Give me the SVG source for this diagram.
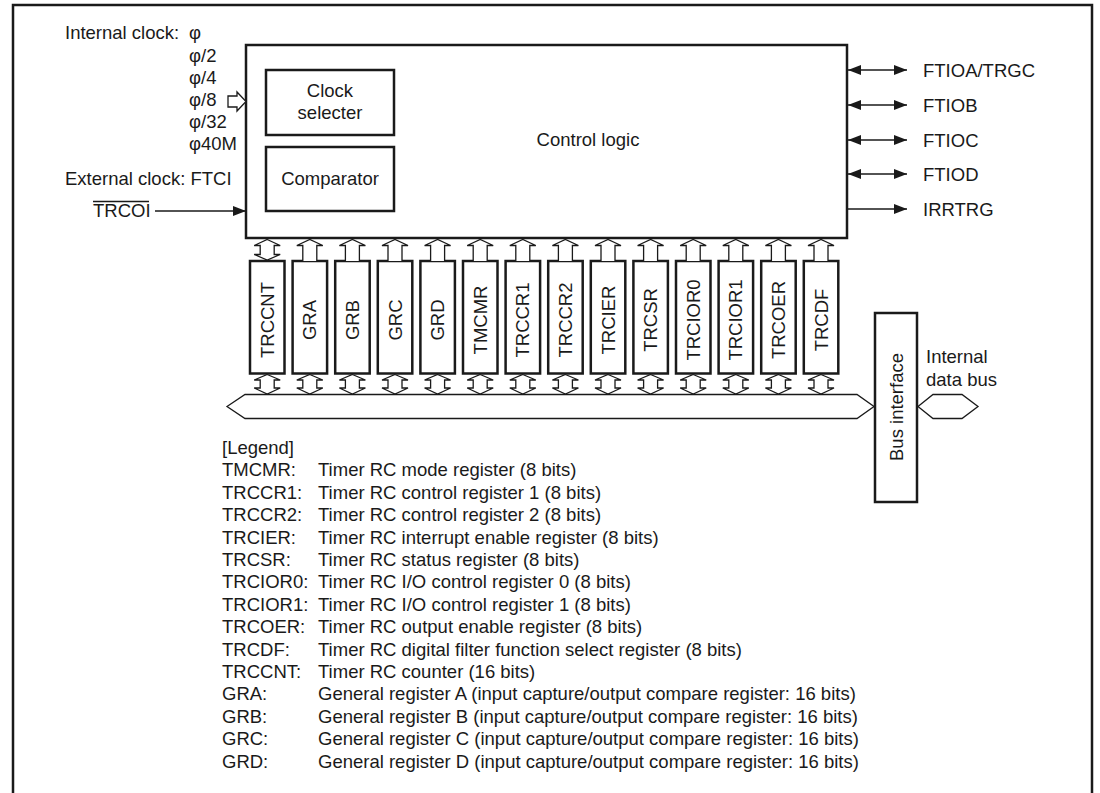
<svg xmlns="http://www.w3.org/2000/svg" width="1100" height="793" viewBox="0 0 1100 793">
<defs>
<style>
text{font-family:"Liberation Sans",Arial,Helvetica,sans-serif;font-size:18.5px;fill:#1a1a1a}
.box{fill:#fff;stroke:#1a1a1a;stroke-width:2.5}
.thin{fill:none;stroke:#1a1a1a;stroke-width:1.3}
.hol{fill:#fff;stroke:#1a1a1a;stroke-width:1.3;stroke-linejoin:miter}
.mid{text-anchor:middle}
</style>
<marker id="ah" viewBox="0 0 13 10" refX="13" refY="5" markerWidth="13" markerHeight="10" markerUnits="userSpaceOnUse" orient="auto-start-reverse">
<path d="M0,0 L13,5 L0,10 z" fill="#1a1a1a"/>
</marker>
</defs>
<rect width="1100" height="793" fill="#fff"/>
<path d="M13,800 V5 H1092 V800" fill="none" stroke="#1a1a1a" stroke-width="2.5"/>

<g id="control-logic">
<rect class="box" x="246" y="45" width="601" height="193"/>
<text class="mid" x="588" y="146">Control logic</text>
</g>
<g id="clock-selecter">
<rect class="box" x="266" y="70" width="128" height="65"/>
<text class="mid" x="330" y="97">Clock</text>
<text class="mid" x="330" y="119">selecter</text>
</g>
<g id="comparator">
<rect class="box" x="266" y="147" width="128" height="64"/>
<text class="mid" x="330" y="185">Comparator</text>
</g>

<g id="inputs">
<text x="65" y="39">Internal clock:</text>
<text x="189" y="39">φ</text>
<text x="189" y="61.5">φ/2</text>
<text x="189" y="83.5">φ/4</text>
<text x="189" y="105.5">φ/8</text>
<text x="189" y="128">φ/32</text>
<text x="189" y="150">φ40M</text>
<text x="65" y="185">External clock: FTCI</text>
<text x="93" y="217">TRCOI</text>
<line class="thin" x1="93" y1="201.5" x2="149" y2="201.5"/>
</g>

<g id="registers">
<g id="reg-TRCCNT"><rect class="box" x="250" y="261" width="34.5" height="112.5"/><text class="mid" transform="translate(267.2,320) rotate(-90)" y="6.5">TRCCNT</text></g>
<g id="reg-GRA"><rect class="box" x="292.6" y="261" width="34.5" height="112.5"/><text class="mid" transform="translate(309.8,320) rotate(-90)" y="6.5">GRA</text></g>
<g id="reg-GRB"><rect class="box" x="335.2" y="261" width="34.5" height="112.5"/><text class="mid" transform="translate(352.4,320) rotate(-90)" y="6.5">GRB</text></g>
<g id="reg-GRC"><rect class="box" x="377.8" y="261" width="34.5" height="112.5"/><text class="mid" transform="translate(395,320) rotate(-90)" y="6.5">GRC</text></g>
<g id="reg-GRD"><rect class="box" x="420.4" y="261" width="34.5" height="112.5"/><text class="mid" transform="translate(437.6,320) rotate(-90)" y="6.5">GRD</text></g>
<g id="reg-TMCMR"><rect class="box" x="463" y="261" width="34.5" height="112.5"/><text class="mid" transform="translate(480.2,320) rotate(-90)" y="6.5">TMCMR</text></g>
<g id="reg-TRCCR1"><rect class="box" x="505.6" y="261" width="34.5" height="112.5"/><text class="mid" transform="translate(522.8,320) rotate(-90)" y="6.5">TRCCR1</text></g>
<g id="reg-TRCCR2"><rect class="box" x="548.2" y="261" width="34.5" height="112.5"/><text class="mid" transform="translate(565.4,320) rotate(-90)" y="6.5">TRCCR2</text></g>
<g id="reg-TRCIER"><rect class="box" x="590.8" y="261" width="34.5" height="112.5"/><text class="mid" transform="translate(608,320) rotate(-90)" y="6.5">TRCIER</text></g>
<g id="reg-TRCSR"><rect class="box" x="633.4" y="261" width="34.5" height="112.5"/><text class="mid" transform="translate(650.6,320) rotate(-90)" y="6.5">TRCSR</text></g>
<g id="reg-TRCIOR0"><rect class="box" x="676" y="261" width="34.5" height="112.5"/><text class="mid" transform="translate(693.2,320) rotate(-90)" y="6.5">TRCIOR0</text></g>
<g id="reg-TRCIOR1"><rect class="box" x="718.6" y="261" width="34.5" height="112.5"/><text class="mid" transform="translate(735.8,320) rotate(-90)" y="6.5">TRCIOR1</text></g>
<g id="reg-TRCOER"><rect class="box" x="761.2" y="261" width="34.5" height="112.5"/><text class="mid" transform="translate(778.4,320) rotate(-90)" y="6.5">TRCOER</text></g>
<g id="reg-TRCDF"><rect class="box" x="803.8" y="261" width="34.5" height="112.5"/><text class="mid" transform="translate(821,320) rotate(-90)" y="6.5">TRCDF</text></g>
</g>

<g id="bus-interface">
<rect class="box" x="875" y="313" width="42" height="189"/>
<text class="mid" transform="translate(896,407) rotate(-90)" y="6.5">Bus interface</text>
</g>

<g id="connectors">
<path class="hol" d="M228,96 H237 V92 L246,101.5 L237,111 V107 H228 Z"/>
<line class="thin" x1="155" y1="211" x2="246" y2="211" marker-end="url(#ah)"/>
<line class="thin" x1="848" y1="70" x2="907" y2="70" marker-start="url(#ah)" marker-end="url(#ah)"/>
<line class="thin" x1="848" y1="105" x2="907" y2="105" marker-start="url(#ah)" marker-end="url(#ah)"/>
<line class="thin" x1="848" y1="140" x2="907" y2="140" marker-start="url(#ah)" marker-end="url(#ah)"/>
<line class="thin" x1="848" y1="174" x2="907" y2="174" marker-start="url(#ah)" marker-end="url(#ah)"/>
<line class="thin" x1="848" y1="209" x2="907" y2="209" marker-end="url(#ah)"/>
<path class="hol" d="M267.2,239.5 L280.2,245.5 H274.2 V254.5 H280.2 L267.2,260 L254.2,254.5 H260.2 V245.5 H254.2 Z"/>
<path class="hol" d="M302.8,261 V245.5 H296.8 L309.8,239.5 L322.8,245.5 H316.8 V261"/>
<path class="hol" d="M345.4,261 V245.5 H339.4 L352.4,239.5 L365.4,245.5 H359.4 V261"/>
<path class="hol" d="M388,261 V245.5 H382 L395,239.5 L408,245.5 H402 V261"/>
<path class="hol" d="M430.6,261 V245.5 H424.6 L437.6,239.5 L450.6,245.5 H444.6 V261"/>
<path class="hol" d="M473.2,261 V245.5 H467.2 L480.2,239.5 L493.2,245.5 H487.2 V261"/>
<path class="hol" d="M515.8,261 V245.5 H509.8 L522.8,239.5 L535.8,245.5 H529.8 V261"/>
<path class="hol" d="M558.4,261 V245.5 H552.4 L565.4,239.5 L578.4,245.5 H572.4 V261"/>
<path class="hol" d="M601,261 V245.5 H595 L608,239.5 L621,245.5 H615 V261"/>
<path class="hol" d="M643.6,261 V245.5 H637.6 L650.6,239.5 L663.6,245.5 H657.6 V261"/>
<path class="hol" d="M686.2,261 V245.5 H680.2 L693.2,239.5 L706.2,245.5 H700.2 V261"/>
<path class="hol" d="M728.8,261 V245.5 H722.8 L735.8,239.5 L748.8,245.5 H742.8 V261"/>
<path class="hol" d="M771.4,261 V245.5 H765.4 L778.4,239.5 L791.4,245.5 H785.4 V261"/>
<path class="hol" d="M814,261 V245.5 H808 L821,239.5 L834,245.5 H828 V261"/>
<path class="hol" d="M267.2,374.5 L280.2,380 H274.2 V388 H280.2 L267.2,394 L254.2,388 H260.2 V380 H254.2 Z"/>
<path class="hol" d="M309.8,374.5 L322.8,380 H316.8 V388 H322.8 L309.8,394 L296.8,388 H302.8 V380 H296.8 Z"/>
<path class="hol" d="M352.4,374.5 L365.4,380 H359.4 V388 H365.4 L352.4,394 L339.4,388 H345.4 V380 H339.4 Z"/>
<path class="hol" d="M395,374.5 L408,380 H402 V388 H408 L395,394 L382,388 H388 V380 H382 Z"/>
<path class="hol" d="M437.6,374.5 L450.6,380 H444.6 V388 H450.6 L437.6,394 L424.6,388 H430.6 V380 H424.6 Z"/>
<path class="hol" d="M480.2,374.5 L493.2,380 H487.2 V388 H493.2 L480.2,394 L467.2,388 H473.2 V380 H467.2 Z"/>
<path class="hol" d="M522.8,374.5 L535.8,380 H529.8 V388 H535.8 L522.8,394 L509.8,388 H515.8 V380 H509.8 Z"/>
<path class="hol" d="M565.4,374.5 L578.4,380 H572.4 V388 H578.4 L565.4,394 L552.4,388 H558.4 V380 H552.4 Z"/>
<path class="hol" d="M608,374.5 L621,380 H615 V388 H621 L608,394 L595,388 H601 V380 H595 Z"/>
<path class="hol" d="M650.6,374.5 L663.6,380 H657.6 V388 H663.6 L650.6,394 L637.6,388 H643.6 V380 H637.6 Z"/>
<path class="hol" d="M693.2,374.5 L706.2,380 H700.2 V388 H706.2 L693.2,394 L680.2,388 H686.2 V380 H680.2 Z"/>
<path class="hol" d="M735.8,374.5 L748.8,380 H742.8 V388 H748.8 L735.8,394 L722.8,388 H728.8 V380 H722.8 Z"/>
<path class="hol" d="M778.4,374.5 L791.4,380 H785.4 V388 H791.4 L778.4,394 L765.4,388 H771.4 V380 H765.4 Z"/>
<path class="hol" d="M821,374.5 L834,380 H828 V388 H834 L821,394 L808,388 H814 V380 H808 Z"/>
<path class="hol" d="M227,406.5 L245,394.5 H857 L874,406.5 L857,418.5 H245 Z"/>
<path class="hol" d="M918,406.5 L933,394.5 H962 L978,406.5 L962,418.5 H933 Z"/>
</g>

<g id="bus-label">
<text x="926" y="363">Internal</text>
<text x="926" y="386">data bus</text>
</g>

<g id="outputs">
<text x="923" y="76.5">FTIOA/TRGC</text>
<text x="923" y="111.5">FTIOB</text>
<text x="923" y="146.5">FTIOC</text>
<text x="923" y="180.5">FTIOD</text>
<text x="923" y="215.5">IRRTRG</text>
</g>

<g id="legend">
<text x="222" y="454">[Legend]</text>
<text x="222" y="476.4">TMCMR:</text><text x="318" y="476.4">Timer RC mode register (8 bits)</text>
<text x="222" y="498.8">TRCCR1:</text><text x="318" y="498.8">Timer RC control register 1 (8 bits)</text>
<text x="222" y="521.2">TRCCR2:</text><text x="318" y="521.2">Timer RC control register 2 (8 bits)</text>
<text x="222" y="543.6">TRCIER:</text><text x="318" y="543.6">Timer RC interrupt enable register (8 bits)</text>
<text x="222" y="566">TRCSR:</text><text x="318" y="566">Timer RC status register (8 bits)</text>
<text x="222" y="588.4">TRCIOR0:</text><text x="318" y="588.4">Timer RC I/O control register 0 (8 bits)</text>
<text x="222" y="610.8">TRCIOR1:</text><text x="318" y="610.8">Timer RC I/O control register 1 (8 bits)</text>
<text x="222" y="633.2">TRCOER:</text><text x="318" y="633.2">Timer RC output enable register (8 bits)</text>
<text x="222" y="655.6">TRCDF:</text><text x="318" y="655.6">Timer RC digital filter function select register (8 bits)</text>
<text x="222" y="678">TRCCNT:</text><text x="318" y="678">Timer RC counter (16 bits)</text>
<text x="222" y="700.4">GRA:</text><text x="318" y="700.4">General register A (input capture/output compare register: 16 bits)</text>
<text x="222" y="722.8">GRB:</text><text x="318" y="722.8">General register B (input capture/output compare register: 16 bits)</text>
<text x="222" y="745.2">GRC:</text><text x="318" y="745.2">General register C (input capture/output compare register: 16 bits)</text>
<text x="222" y="767.6">GRD:</text><text x="318" y="767.6">General register D (input capture/output compare register: 16 bits)</text>
</g>
</svg>
